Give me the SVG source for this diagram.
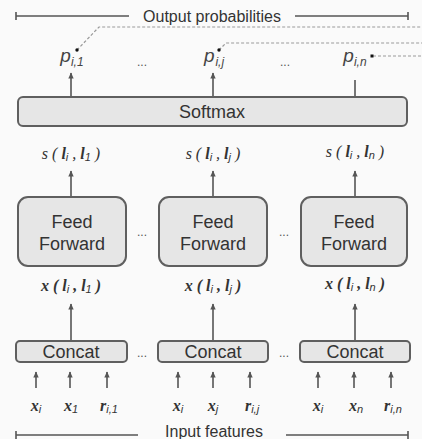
<svg xmlns="http://www.w3.org/2000/svg" width="422" height="439" viewBox="0 0 422 439">
<defs>
<marker id="ah" viewBox="0 0 10 10" refX="9" refY="5" markerWidth="7" markerHeight="6" orient="auto" markerUnits="userSpaceOnUse">
<path d="M0,0.5 L10,5 L0,9.5 z" fill="#555"/>
</marker>
<style>
.box{fill:#e6e6e6;stroke:#5f5f5f;stroke-width:2}
.lbl{font-family:"Liberation Sans",Arial,sans-serif;fill:#333;text-anchor:middle}
.big{font-size:18px}
.mid{font-size:18px}
.cap{font-family:"Liberation Sans",Arial,sans-serif;font-size:16px;fill:#333;text-anchor:middle}
.math{font-family:"Liberation Serif","Times New Roman",serif;font-style:italic;fill:#333;text-anchor:middle;font-size:16px}
.pm{font-family:"Liberation Sans",Arial,sans-serif;font-style:italic;fill:#444;text-anchor:middle;font-size:19px}
.sub{font-family:"Liberation Sans",Arial,sans-serif;font-style:italic;font-weight:normal;font-size:11px}
.psub{font-size:12px}
.arr{stroke:#555;stroke-width:1.6;fill:none;marker-end:url(#ah)}
.ln{stroke:#555;stroke-width:1.6;fill:none}
.dot{stroke:#999;stroke-width:1.2;fill:none;stroke-dasharray:3,2}
.dots{font-family:"Liberation Sans",Arial,sans-serif;font-size:12px;fill:#555;text-anchor:middle}
</style>
</defs>
<rect width="422" height="439" fill="#fafafa"/>

<g id="connectors">
<path class="ln" d="M16,16 H129 M16,12 V20 M295,16 H408 M408,12 V20"/>
<path class="ln" d="M16,435 H138 M16,431 V439 M286,435 H408 M408,431 V439"/>
<path class="dot" d="M77,50 L99,27 H422"/>
<path class="dot" d="M219,50 L226,43 H422"/>
<path class="dot" d="M373,56 H422"/>
<path class="arr" d="M71,97 V73"/>
<path class="arr" d="M213,97 V73"/>
<path class="ln" d="M355,96 V80"/>
<path class="arr" d="M71,197 V171"/>
<path class="arr" d="M213,197 V171"/>
<path class="arr" d="M355,197 V171"/>
<path class="arr" d="M71,341 V304"/>
<path class="arr" d="M213,341 V304"/>
<path class="arr" d="M355,341 V304"/>
<path class="arr" d="M36,388 V372"/>
<path class="arr" d="M70,388 V372"/>
<path class="arr" d="M107,388 V372"/>
<path class="arr" d="M178,388 V372"/>
<path class="arr" d="M213,388 V372"/>
<path class="arr" d="M250,388 V372"/>
<path class="arr" d="M318,388 V372"/>
<path class="arr" d="M354,388 V372"/>
<path class="arr" d="M391,388 V372"/>
</g>

<g id="captions">
<text class="cap" x="212" y="22">Output probabilities</text>
<text class="cap" x="214" y="437" font-size="17">Input features</text>
</g>

<g id="outputs">
<text class="pm" x="72" y="62">p<tspan class="sub psub" dy="4">i,1</tspan></text>
<circle cx="77" cy="50" r="1.7" fill="#111"/>
<text class="pm" x="214" y="62">p<tspan class="sub psub" dy="4" dx="1">i,j</tspan></text>
<circle cx="219" cy="50" r="1.7" fill="#111"/>
<text class="pm" x="355" y="62">p<tspan class="sub psub" dy="4">i,n</tspan></text>
<rect x="370.5" y="54.5" width="3" height="3" fill="#111"/>
<text class="dots" x="142" y="66">...</text>
<text class="dots" x="285" y="66">...</text>
</g>

<g id="softmax">
<rect class="box" x="18" y="97" width="389" height="29" rx="5"/>
<text class="lbl mid" x="212" y="118">Softmax</text>
</g>

<g id="scores">
<text class="math" x="71" y="159">s ( <tspan font-weight="bold">l</tspan><tspan class="sub" dy="2">i</tspan><tspan dy="-2"> , </tspan><tspan font-weight="bold">l</tspan><tspan class="sub" dy="2">1</tspan><tspan dy="-2"> )</tspan></text>
<text class="math" x="213" y="159">s ( <tspan font-weight="bold">l</tspan><tspan class="sub" dy="2">i</tspan><tspan dy="-2"> , </tspan><tspan font-weight="bold">l</tspan><tspan class="sub" dy="2">j</tspan><tspan dy="-2"> )</tspan></text>
<text class="math" x="355" y="157">s ( <tspan font-weight="bold">l</tspan><tspan class="sub" dy="2">i</tspan><tspan dy="-2"> , </tspan><tspan font-weight="bold">l</tspan><tspan class="sub" dy="2">n</tspan><tspan dy="-2"> )</tspan></text>
</g>

<g id="ff1">
<rect class="box" x="18" y="197" width="108" height="69" rx="10"/>
<text class="lbl big" x="72" y="228">Feed</text>
<text class="lbl big" x="72" y="250">Forward</text>
</g>
<g id="ff2">
<rect class="box" x="159" y="197" width="108" height="69" rx="10"/>
<text class="lbl big" x="213" y="228">Feed</text>
<text class="lbl big" x="213" y="250">Forward</text>
</g>
<g id="ff3">
<rect class="box" x="301" y="197" width="106" height="69" rx="10"/>
<text class="lbl big" x="354" y="228">Feed</text>
<text class="lbl big" x="354" y="250">Forward</text>
</g>
<text class="dots" x="142" y="236">...</text>
<text class="dots" x="284" y="236">...</text>

<g id="xfeat">
<text class="math" x="71" y="291" font-weight="bold" font-size="17">x ( l<tspan class="sub" dy="2">i</tspan><tspan dy="-2"> , l</tspan><tspan class="sub" dy="2">1</tspan><tspan dy="-2"> )</tspan></text>
<text class="math" x="213" y="291" font-weight="bold" font-size="17">x ( l<tspan class="sub" dy="2">i</tspan><tspan dy="-2"> , l</tspan><tspan class="sub" dy="2">j</tspan><tspan dy="-2"> )</tspan></text>
<text class="math" x="355" y="289" font-weight="bold" font-size="17">x ( l<tspan class="sub" dy="2">i</tspan><tspan dy="-2"> , l</tspan><tspan class="sub" dy="2">n</tspan><tspan dy="-2"> )</tspan></text>
</g>

<g id="concat1">
<rect class="box" x="16" y="341" width="111" height="21" rx="4"/>
<text class="lbl big" x="71" y="358">Concat</text>
</g>
<g id="concat2">
<rect class="box" x="158" y="341" width="110" height="21" rx="4"/>
<text class="lbl big" x="213" y="358">Concat</text>
</g>
<g id="concat3">
<rect class="box" x="300" y="341" width="110" height="21" rx="4"/>
<text class="lbl big" x="355" y="358">Concat</text>
</g>
<text class="dots" x="142" y="357">...</text>
<text class="dots" x="284" y="357">...</text>

<g id="inputs">
<text class="math" x="36" y="411" font-weight="bold" font-size="17">x<tspan class="sub" dy="2">i</tspan></text>
<text class="math" x="71" y="411" font-weight="bold" font-size="17">x<tspan class="sub" dy="2">1</tspan></text>
<text class="math" x="109" y="411" font-weight="bold" font-size="17">r<tspan class="sub" dy="2">i,1</tspan></text>
<text class="math" x="178" y="411" font-weight="bold" font-size="17">x<tspan class="sub" dy="2">i</tspan></text>
<text class="math" x="213" y="411" font-weight="bold" font-size="17">x<tspan class="sub" dy="2">j</tspan></text>
<text class="math" x="252" y="411" font-weight="bold" font-size="17">r<tspan class="sub" dy="2">i,j</tspan></text>
<text class="math" x="318" y="411" font-weight="bold" font-size="17">x<tspan class="sub" dy="2">i</tspan></text>
<text class="math" x="356" y="411" font-weight="bold" font-size="17">x<tspan class="sub" dy="2">n</tspan></text>
<text class="math" x="393" y="411" font-weight="bold" font-size="17">r<tspan class="sub" dy="2">i,n</tspan></text>
</g>
</svg>
